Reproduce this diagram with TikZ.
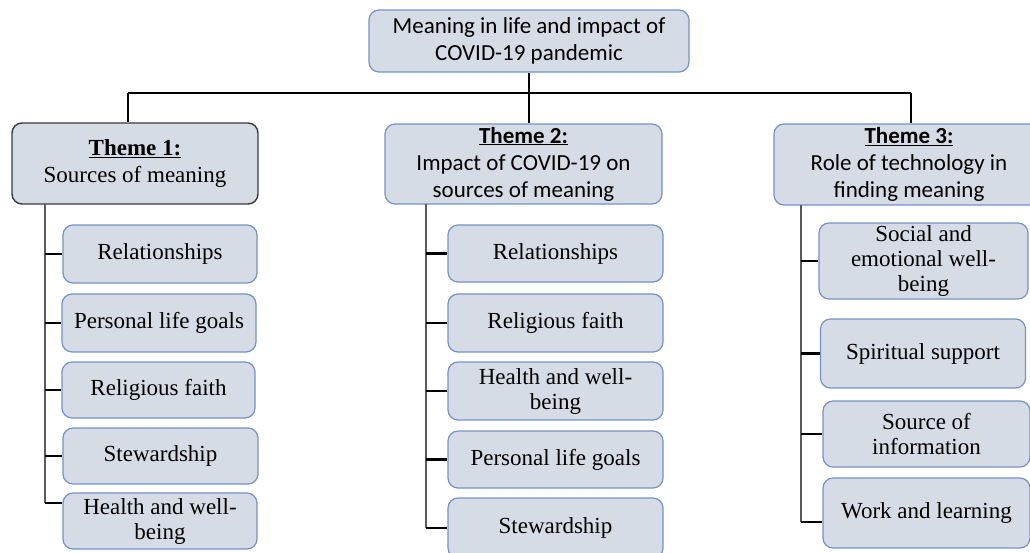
\documentclass[tikz,border=0pt]{standalone}
\usepackage{fontspec}
\setmainfont{Liberation Serif}
\newfontfamily\calfont{Carlito}
\definecolor{boxfill}{HTML}{D6DCE5}
\definecolor{boxline}{HTML}{7592C8}
\definecolor{darkline}{HTML}{3A3A3A}
\definecolor{spinegray}{HTML}{5A5A5A}
\begin{document}
\begin{tikzpicture}[x=1pt,y=-1pt,
  base/.style={rounded corners=10pt, fill=boxfill, draw=boxline, line width=1.2pt, inner sep=0pt, align=center},
  sanshead/.style={base, font=\calfont\fontsize{23}{27}\selectfont},
  serifhead/.style={base, draw=darkline, line width=1.4pt, font=\fontsize{23}{27}\selectfont},
  child/.style={base, font=\fontsize{23}{25}\selectfont},
  main/.style={line width=2.8pt, black},
  spine/.style={line width=1.4pt, spinegray},
  tick/.style={line width=2.8pt, black}]
\useasboundingbox (0,0) rectangle (1030,552);

% top node
\node[sanshead, minimum width=320, minimum height=62] (top) at (529,41) {Meaning in life and impact of\\COVID-19 pandemic};

% themes
\node[serifhead, minimum width=246, minimum height=81] (t1) at (135,163.5) {\textbf{\underline{Theme 1:}}\\Sources of meaning};
\node[sanshead, minimum width=277, minimum height=80] (t2) at (523.5,164) {\textbf{\underline{Theme 2:}}\\Impact of COVID-19 on\\sources of meaning};
\node[sanshead, minimum width=270, minimum height=81] (t3) at (909,164.5) {\textbf{\underline{Theme 3:}}\\Role of technology in\\finding meaning};

% connectors top
\coordinate (h1) at (128,93);
\coordinate (h3) at (911,93);
\draw[main] (top.south) -- (top.south |- t2.north);
\draw[main] (h1) -- (h3);
\draw[main] (h1) -- (h1 |- t1.north);
\draw[main] (h3) -- (h3 |- t3.north);

% theme 1 children
\node[child, minimum width=194, minimum height=58] (a1) at (160,254) {Relationships};
\node[child, minimum width=194, minimum height=58] (a2) at (159,323) {Personal life goals};
\node[child, minimum width=193, minimum height=56] (a3) at (158.5,390) {Religious faith};
\node[child, minimum width=195, minimum height=56] (a4) at (160.5,456) {Stewardship};
\node[child, minimum width=194, minimum height=56] (a5) at (160,521) {Health and well-\\being};

\coordinate (v1) at (45,204);
\coordinate (e1) at (45,503);
\draw[spine] (v1) -- (e1);
\draw[tick] (a1.west -| v1) -- (a1.west);
\draw[tick] (a2.west -| v1) -- (a2.west);
\draw[tick] (a3.west -| v1) -- (a3.west);
\draw[tick] (a4.west -| v1) -- (a4.west);
\draw[tick] (e1) -- (e1 -| a5.west);

% theme 2 children
\node[child, minimum width=215, minimum height=57] (b1) at (555.5,253.5) {Relationships};
\node[child, minimum width=215, minimum height=58] (b2) at (555.5,323) {Religious faith};
\node[child, minimum width=215, minimum height=58] (b3) at (555.5,391) {Health and well-\\being};
\node[child, minimum width=215, minimum height=57] (b4) at (555.5,459.5) {Personal life goals};
\node[child, minimum width=215, minimum height=60] (b5) at (555.5,528) {Stewardship};

\coordinate (v2) at (426,204);
\draw[spine] (v2) -- (v2 |- b5.west);
\draw[tick] (b1.west -| v2) -- (b1.west);
\draw[tick] (b2.west -| v2) -- (b2.west);
\draw[tick] (b3.west -| v2) -- (b3.west);
\draw[tick] (b4.west -| v2) -- (b4.west);
\draw[tick] (b5.west -| v2) -- (b5.west);

% theme 3 children
\node[child, minimum width=209, minimum height=76] (c1) at (923.5,261) {Social and\\emotional well-\\being};
\node[child, minimum width=205, minimum height=69] (c2) at (923,353.5) {Spiritual support};
\node[child, minimum width=207, minimum height=66] (c3) at (926.5,434) {Source of\\information};
\node[child, minimum width=207, minimum height=70] (c4) at (926.5,513) {Work and learning};

\coordinate (v3) at (801,205);
\coordinate (e3) at (801,522);
\draw[spine] (v3) -- (e3);
\draw[tick] (c1.west -| v3) -- (c1.west);
\draw[tick] (c2.west -| v3) -- (c2.west);
\draw[tick] (c3.west -| v3) -- (c3.west);
\draw[tick] (e3) -- (e3 -| c4.west);
\end{tikzpicture}
\end{document}
